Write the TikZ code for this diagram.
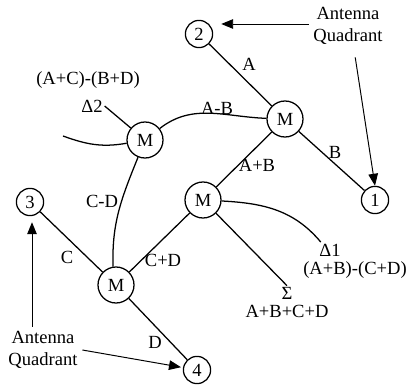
\documentclass[tikz,border=0pt]{standalone}
\usepackage{fontspec}
\setmainfont{Liberation Serif}
\usetikzlibrary{arrows.meta}
\tikzset{
  hyb/.style={draw, circle, line width=0.9pt, minimum size=9mm, inner sep=0pt},
  quad/.style={draw, circle, line width=0.9pt, minimum size=6.8mm, inner sep=0pt},
  lbl/.style={inner sep=1pt},
  pointer/.style={-{Triangle[length=3mm, width=2.4mm]}, line width=0.7pt},
}
\begin{document}
\begin{tikzpicture}[
        line width=0.9pt,
        font=\fontsize{13.2}{15.6}\selectfont
    ]
        \useasboundingbox (0,0) rectangle (10.25,-9.625);
        % quadrantes da antena
        \node[quad] (n2) at (4.975,-0.85) {2};
        \node[quad] (n1) at (9.375,-5) {1};
        \node[quad] (n3) at (0.75,-5.05) {3};
        \node[quad] (n4) at (4.925,-9.25) {4};
        % hibridos
        \node[hyb] (m1) at (7.125,-2.975) {M};
        \node[hyb] (m2) at (3.625,-3.5) {M};
        \node[hyb] (m3) at (5.075,-5) {M};
        \node[hyb] (m4) at (2.9,-7.125) {M};
        % ligacoes
        \draw (n2) -- (m1);
        \draw (m1) -- (n1);
        \draw (m1) -- (m3);
        \draw (m3) -- (m4);
        \draw (m4) -- (n3);
        \draw (m4) -- (n4);
        \draw (m1) to[out=178, in=38] (m2);
        \draw (m2) to[out=248, in=92] (m4.99);
        \coordinate (stub) at (1.575,-3.4);
        \draw (stub) to[out=-20, in=190] (m2);
        % rotulos dos ramos
        \node[lbl] (lA) at (6.225,-1.6) {A};
        \node[lbl] (lB) at (8.375,-3.8) {B};
        \node[lbl] (lAmB) at (5.425,-2.7) {A-B};
        \node[lbl] (lApB) at (6.425,-4.125) {A+B};
        \node[lbl] (lCmD) at (2.55,-5.025) {C-D};
        \node[lbl] (lC) at (1.675,-6.425) {C};
        \node[lbl] (lCpD) at (4.075,-6.5) {C+D};
        \node[lbl] (lD) at (3.875,-8.55) {D};
        % saidas soma e diferenca
        \node[lbl] (d2txt) at (2.2,-2.0) {(A+C)-(B+D)};
        \node[lbl] (d2) at (2.3,-2.65) {Δ2};
        \draw (d2.east) -- (m2);
        \node[lbl, inner sep=0pt] (sig) at (7.175,-7.34) {Σ};
        \node[lbl, inner sep=0pt] (sigtxt) at (7.175,-7.79) {A+B+C+D};
        \draw (m3) -- ([yshift=0.3mm]sig.north);
        \node[lbl, inner sep=0pt] (d1) at (8.25,-6.27) {Δ1};
        \node[lbl, inner sep=0pt] (d1txt) at (8.875,-6.76) {(A+B)-(C+D)};
        \draw (m3) to[out=-3, in=130] ([shift={(0.05,0.05)}]d1.north west);
        % indicacoes
        \node[align=center, inner sep=3pt] (ant1) at (8.7,-0.65) {Antenna\\Quadrant};
        \node[align=center, inner sep=3pt] (ant2) at (1.075,-8.75) {Antenna\\Quadrant};
        \draw[pointer, shorten >=2mm] ([yshift=0.5mm]ant1.west) -- ([yshift=0.5mm]ant1.west -| n2.east);
        \draw[pointer, shorten <=2mm] ([xshift=1.5mm]ant1.south) -- (n1.north);
        \draw[pointer, shorten >=1.5mm] ([xshift=-2.75mm]ant2.north) -- ([xshift=-2.75mm]ant2.north |- n3.south);
        \draw[pointer, shorten >=0.5mm] (ant2.east) -- (n4);
    \end{tikzpicture}
\end{document}
